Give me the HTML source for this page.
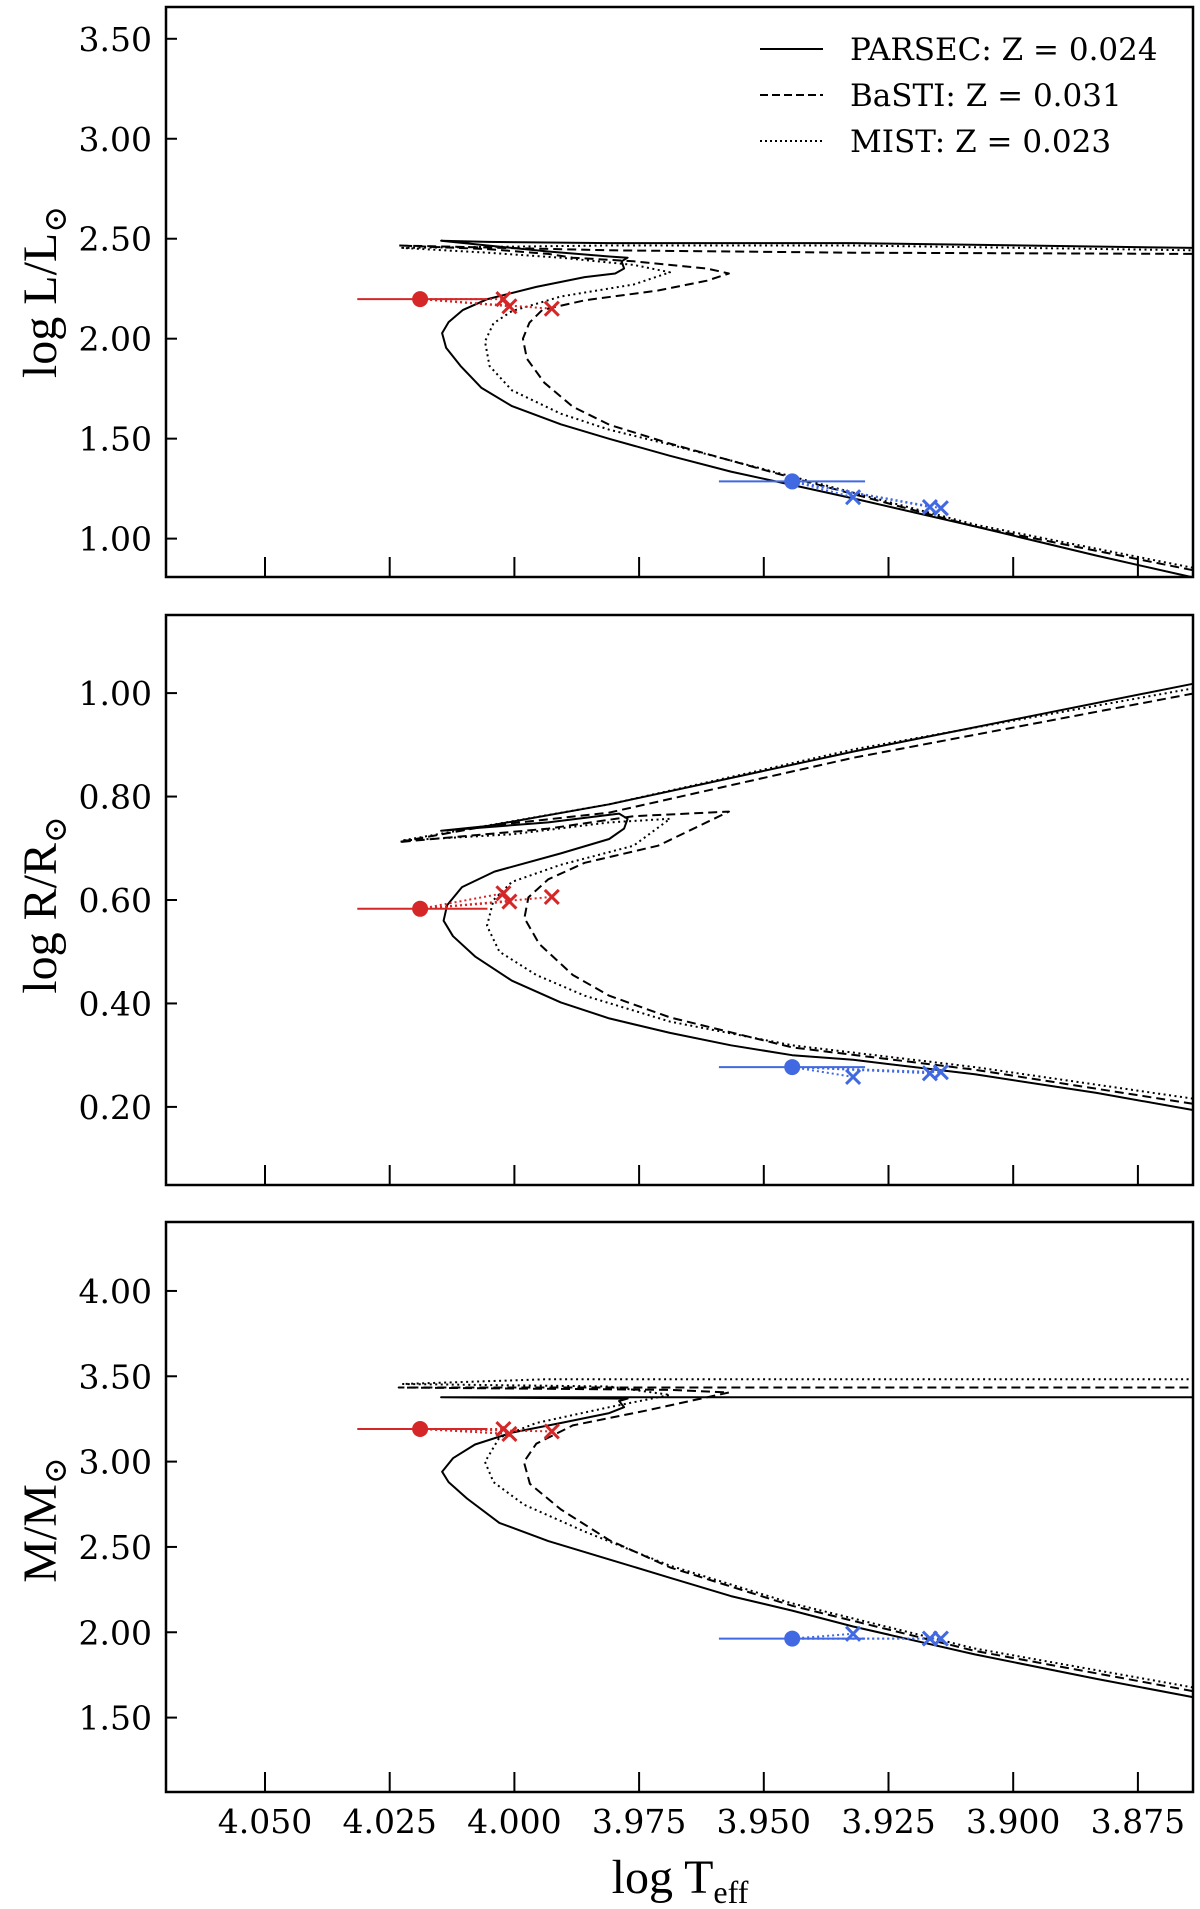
<!DOCTYPE html>
<html><head><meta charset="utf-8">
<style>
html,body{margin:0;padding:0;background:#fff;}
svg{display:block;}
.tick{font-family:"DejaVu Serif","Liberation Serif",serif;font-size:33px;fill:#000;}
.lab{font-family:"Liberation Serif","DejaVu Serif",serif;font-size:48px;fill:#000;}
.leg{font-family:"DejaVu Serif","Liberation Serif",serif;font-size:31px;fill:#000;}
</style></head>
<body>
<svg id="chart" width="1200" height="1909" viewBox="0 0 1200 1909" xmlns="http://www.w3.org/2000/svg"></svg>
<script>
// ---- data ----
const xTicks = [4.050, 4.025, 4.000, 3.975, 3.950, 3.925, 3.900, 3.875];
const xTickLabels = ["4.050","4.025","4.000","3.975","3.950","3.925","3.900","3.875"];
const lTicks = [1.0,1.5,2.0,2.5,3.0,3.5];
const rTicks = [0.2,0.4,0.6,0.8,1.0];
const mTicks = [1.5,2.0,2.5,3.0,3.5,4.0];

// Luminosity panel tracks [logT, logL]
const parsecL = [[3.864,0.806],[3.8833,0.915],[3.9077,1.061],[3.9321,1.201],[3.9443,1.268],[3.9566,1.335],[3.9688,1.414],[3.9810,1.499],[3.9907,1.572],[4.0005,1.663],[4.0066,1.754],[4.0108,1.864],[4.0137,1.955],[4.0145,2.028],[4.0132,2.083],[4.0103,2.144],[4.0054,2.198],[3.9956,2.259],[3.9859,2.308],[3.9798,2.326],[3.978,2.351],[3.9785,2.387],[3.9773,2.405],[3.981,2.411],[3.9932,2.436],[4.0054,2.466],[4.0147,2.490],[4.0054,2.484],[3.981,2.478],[3.9321,2.478],[3.864,2.454]];
const bastiL = [[3.864,0.842],[3.9077,1.061],[3.9443,1.304],[3.9688,1.475],[3.981,1.570],[3.9883,1.660],[3.9940,1.780],[3.9975,1.900],[3.9983,2.000],[3.9970,2.080],[3.9944,2.144],[3.9859,2.192],[3.9712,2.241],[3.9614,2.290],[3.957,2.326],[3.9614,2.351],[3.9761,2.387],[3.9883,2.405],[3.9932,2.424],[4.0054,2.448],[4.0232,2.466],[3.981,2.442],[3.9321,2.430],[3.864,2.424]];
const mistL = [[3.864,0.854],[3.9077,1.070],[3.9443,1.310],[3.9688,1.470],[3.981,1.545],[3.9907,1.625],[4.0005,1.742],[4.0050,1.864],[4.0059,1.986],[4.0042,2.077],[4.0005,2.138],[3.9907,2.211],[3.9761,2.271],[3.9688,2.332],[3.9761,2.369],[3.9907,2.405],[4.0054,2.430],[4.0225,2.454],[3.981,2.466],[3.9321,2.466],[3.864,2.442]];
// Radius panel tracks [logT, logR]
const parsecR = [[3.864,0.194],[3.8833,0.227],[3.9077,0.263],[3.9321,0.291],[3.9443,0.300],[3.9566,0.319],[3.9688,0.343],[3.981,0.371],[3.9907,0.402],[4.0005,0.444],[4.0079,0.491],[4.0123,0.530],[4.0142,0.560],[4.0135,0.590],[4.0105,0.625],[4.0040,0.655],[3.9907,0.690],[3.981,0.718],[3.978,0.738],[3.9773,0.757],[3.979,0.767],[3.9932,0.750],[4.0147,0.734],[4.0054,0.743],[3.981,0.785],[3.9321,0.887],[3.864,1.018]];
const bastiR = [[3.864,0.206],[3.9077,0.272],[3.9443,0.315],[3.9688,0.373],[3.981,0.415],[3.9883,0.455],[3.9950,0.515],[3.9980,0.565],[3.9972,0.605],[3.9932,0.640],[3.9859,0.672],[3.9712,0.705],[3.957,0.771],[3.9761,0.762],[3.9932,0.738],[4.0232,0.712],[4.0054,0.743],[3.981,0.769],[3.9321,0.875],[3.864,0.999]];
const mistR = [[3.864,0.216],[3.9077,0.277],[3.9443,0.319],[3.9688,0.365],[3.9859,0.415],[3.9956,0.455],[4.003,0.500],[4.0055,0.550],[4.0042,0.600],[4.0005,0.635],[3.9907,0.668],[3.9761,0.705],[3.9688,0.757],[3.981,0.750],[4.0005,0.727],[4.0225,0.715],[3.981,0.785],[3.9321,0.891],[3.864,1.009]];
// Mass panel tracks [logT, M]
const parsecM = [[3.864,1.620],[3.8833,1.727],[3.9077,1.870],[3.9321,2.034],[3.9443,2.127],[3.9566,2.212],[3.9688,2.319],[3.981,2.427],[3.9932,2.534],[4.003,2.641],[4.0095,2.784],[4.0132,2.880],[4.0145,2.941],[4.0123,3.020],[4.0079,3.100],[4.0005,3.170],[3.9907,3.226],[3.981,3.284],[3.978,3.319],[3.979,3.355],[3.9773,3.369],[4.0147,3.377],[3.864,3.377]];
const bastiM = [[3.864,1.655],[3.9077,1.891],[3.9443,2.155],[3.9688,2.380],[3.981,2.540],[3.9907,2.720],[3.9969,2.870],[3.9981,2.998],[3.9956,3.105],[3.9883,3.212],[3.9737,3.298],[3.957,3.405],[3.9688,3.420],[4.0232,3.434],[3.864,3.434]];
const mistM = [[3.864,1.677],[3.9077,1.905],[3.9443,2.169],[3.9688,2.390],[3.9859,2.590],[3.9981,2.748],[4.0042,2.880],[4.0059,2.998],[4.003,3.141],[3.9956,3.226],[3.981,3.319],[3.9688,3.391],[3.981,3.440],[4.0225,3.455],[3.9932,3.483],[3.864,3.483]];

// Observed stars
const redObsT = 4.0189, redErrLo = 0.0126, redErrHi = 0.0135;
const blueObsT = 3.9443, blueErrLo = 0.0147, blueErrHi = 0.0146;
const redObs = [2.198, 0.583, 3.191];
const blueObs = [1.286, 0.277, 1.963];
const redFitL = [[4.0022,2.198],[4.0010,2.162],[3.9925,2.150]];
const redFitR = [[4.0022,0.613],[4.0010,0.597],[3.9925,0.606]];
const redFitM = [[4.0022,3.191],[4.0010,3.162],[3.9925,3.177]];
const blueFitL = [[3.9321,1.207],[3.9167,1.158],[3.9145,1.152]];
const blueFitR = [[3.9321,0.258],[3.9167,0.265],[3.9145,0.267]];
const blueFitM = [[3.9321,1.991],[3.9167,1.963],[3.9145,1.963]];

// ---- layout ----
const NS = "http://www.w3.org/2000/svg";
const svg = document.getElementById("chart");
const X0 = 166, X1 = 1193;
const xScale = t => 265 + (4.05 - t) * 4988;
const panels = [
  {name:"luminosity", top:7, bot:577, vTop:3.659, vBot:0.808, ticks:lTicks, dec:2, label:"log L/L", series:[parsecL,bastiL,mistL], obs:0, rf:redFitL, bf:blueFitL, labY:292},
  {name:"radius", top:615, bot:1185, vTop:1.151, vBot:0.049, ticks:rTicks, dec:2, label:"log R/R", series:[parsecR,bastiR,mistR], obs:1, rf:redFitR, bf:blueFitR, labY:905},
  {name:"mass", top:1222, bot:1792, vTop:4.404, vBot:1.064, ticks:mTicks, dec:2, label:"M/M", series:[parsecM,bastiM,mistM], obs:2, rf:redFitM, bf:blueFitM, labY:1520}
];
const styles = [{dash:null, n:"parsec"},{dash:"9,5", n:"basti"},{dash:"2,3.5", n:"mist"}];
function mk(tag, attrs, parent){ const e=document.createElementNS(NS,tag); for(const k in attrs) e.setAttribute(k,attrs[k]); (parent||svg).appendChild(e); return e; }

panels.forEach((p,pi)=>{
  const ys = v => p.top + (p.vTop - v) / (p.vTop - p.vBot) * (p.bot - p.top);
  const g = mk("g",{});
  
  
  const cid = "clip"+pi;
  const cp = mk("clipPath",{id:cid}, g);
  mk("rect",{x:X0,y:p.top,width:X1-X0,height:p.bot-p.top},cp);
  const plot = mk("g",{"clip-path":"url(#"+cid+")"}, g);
  p.series.forEach((s,si)=>{
    const d = s.map((pt,i)=>(i?"L":"M")+xScale(pt[0]).toFixed(1)+","+ys(pt[1]).toFixed(1)).join(" ");
    const a = {d:d, fill:"none", stroke:"#000", "stroke-width":2, "stroke-linejoin":"round"};
    if(styles[si].dash) a["stroke-dasharray"]=styles[si].dash;
    const path = mk("path",a,plot);
    
    
  });
  [["#d62728",redObsT,redErrLo,redErrHi,redObs[p.obs],p.rf,"red"],["#4169e1",blueObsT,blueErrLo,blueErrHi,blueObs[p.obs],p.bf,"blue"]].forEach(o=>{
    const [col,t,lo,hi,v,fits,nm]=o;
    const cx = xScale(t), cy = ys(v);
    const eb = mk("line",{x1:xScale(t+lo),x2:xScale(t-hi),y1:cy,y2:cy,stroke:col,"stroke-width":2},plot);
    
    
    fits.forEach(f=>{
      const fx=xScale(f[0]), fy=ys(f[1]);
      const ln = mk("line",{x1:cx,y1:cy,x2:fx,y2:fy,stroke:col,"stroke-width":2,"stroke-dasharray":"2,3"},plot);
      
      
      const xm = mk("path",{d:`M${fx-7},${fy-7}L${fx+7},${fy+7}M${fx-7},${fy+7}L${fx+7},${fy-7}`,stroke:col,"stroke-width":3},plot);
      
      
    });
    const dot = mk("circle",{cx:cx,cy:cy,r:8,fill:col},plot);
    
    
  });
  const fr = mk("rect",{x:X0,y:p.top,width:X1-X0,height:p.bot-p.top,fill:"none",stroke:"#000","stroke-width":2.5},g);
  
  
  p.ticks.forEach(v=>{
    const y = ys(v);
    mk("line",{x1:X0,x2:X0+11,y1:y,y2:y,stroke:"#000","stroke-width":2},g);
    const tx = mk("text",{x:152,y:y+12,"text-anchor":"end",class:"tick"},g);
    tx.textContent = v.toFixed(p.dec);
    
    
  });
  xTicks.forEach((t,i)=>{
    const x = xScale(t);
    mk("line",{x1:x,x2:x,y1:p.bot,y2:p.bot-20,stroke:"#000","stroke-width":2},g);
    if(pi===2){
      const tx = mk("text",{x:x,y:1833,"text-anchor":"middle",class:"tick"},g);
      tx.textContent = xTickLabels[i];
      
      
    }
  });
  const yl = mk("text",{x:0,y:0,transform:`translate(56,${p.labY}) rotate(-90)`,"text-anchor":"middle",class:"lab"},g);
  yl.innerHTML = p.label + '<tspan font-size="32" dy="10">\u2299</tspan>';
  
  
});

const xl = mk("text",{x:680,y:1893,"text-anchor":"middle",class:"lab"});
xl.innerHTML = 'log T<tspan font-size="32" dy="10">eff</tspan>';



const legNames = ["PARSEC: Z = 0.024","BaSTI: Z = 0.031","MIST: Z = 0.023"];
const legG = mk("g",{});


legNames.forEach((n,i)=>{
  const y = 49 + i*46;
  const a = {x1:760,x2:823,y1:y,y2:y,stroke:"#000","stroke-width":2};
  if(styles[i].dash) a["stroke-dasharray"]=i===1?"8,4":"2,3";
  mk("line",a,legG);
  const t = mk("text",{x:850,y:y+11,class:"leg"},legG);
  t.textContent = n;
  
  
});
</script>
</body></html>
